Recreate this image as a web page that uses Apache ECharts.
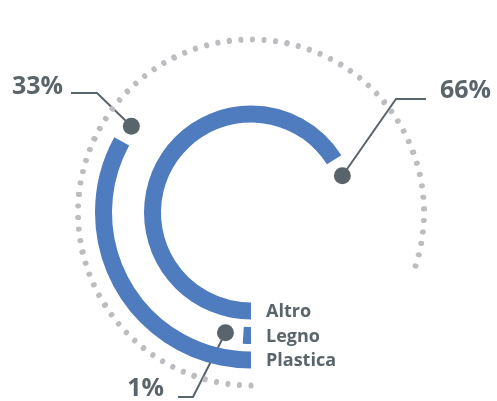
<!DOCTYPE html>
<html>
<head>
<meta charset="utf-8">
<script src="https://cdn.jsdelivr.net/npm/echarts@6/dist/echarts.min.js"></script>
<style>
  html, body { margin: 0; padding: 0; background: #ffffff; }
  #chart { width: 497px; height: 401px; }
</style>
</head>
<body>
<div id="chart"></div>
<script>
// Material shares, innermost ring first
const categories = ['Altro', 'Legno', 'Plastica'];
const shares = [66, 1, 33];
const shareLabels = ['66%', '1%', '33%'];

const BLUE = '#4f7bbf';
const INK = '#5a646b';
const DOT = '#bdbdc1';
const FONT = '"Open Sans", "DejaVu Sans", sans-serif';

const CX = 251, CY = 212.5;

const chart = echarts.init(document.getElementById('chart'), null, { renderer: 'canvas' });

chart.setOption({
  animation: false,
  polar: { center: [CX, CY], radius: [86.25, 159.75] },
  angleAxis: {
    type: 'value', min: 0, max: 100,
    startAngle: 270, clockwise: true, show: false
  },
  radiusAxis: { type: 'category', data: categories, show: false },
  series: [
    {
      type: 'bar',
      coordinateSystem: 'polar',
      data: shares,
      barWidth: 17,
      itemStyle: { color: BLUE },
      silent: true
    },
    {
      // dotted guide ring behind the bars
      type: 'gauge',
      center: [CX, CY],
      radius: 173.5,
      startAngle: 270,
      endAngle: -18,
      min: 0, max: 100,
      splitNumber: 15,
      axisLine: { show: false, lineStyle: { width: 0 } },
      splitLine: { show: false },
      axisTick: {
        show: true, splitNumber: 5, length: 1, distance: 0,
        lineStyle: { color: DOT, width: 5, cap: 'round' }
      },
      axisLabel: { show: false },
      pointer: { show: false },
      anchor: { show: false },
      progress: { show: false },
      title: { show: false },
      detail: { show: false },
      silent: true,
      data: []
    }
  ]
});

// Marker dots sit a short arc-length past the end of each bar
const GAP_PX = 18;
const toPx = (i, v) => chart.convertToPixel({ polarIndex: 0 }, [i, v]);

const markerData = shares.map((v, i) => {
  const p0 = toPx(i, 0);
  const r = Math.hypot(p0[0] - CX, p0[1] - CY);
  return [i, v + GAP_PX / (2 * Math.PI * r) * 100];
});

chart.setOption({
  series: [
    {}, {},
    {
      type: 'scatter',
      coordinateSystem: 'polar',
      data: markerData,
      symbolSize: 17,
      itemStyle: { color: INK, opacity: 1 },
      silent: true,
      z: 5
    }
  ]
});

// Leader line layout per category: elbow, line end, text anchor, alignment
const leaders = [
  { elbow: [396, 99], end: [426, 99], text: [440, 91], align: 'left' },
  { elbow: [193, 397], end: [178, 397], text: [164, 389], align: 'right' },
  { elbow: [97, 93], end: [71, 93], text: [63, 87], align: 'right' }
];

const graphics = [];
markerData.forEach((m, i) => {
  const p = chart.convertToPixel({ polarIndex: 0 }, m);
  const L = leaders[i];
  graphics.push({
    type: 'polyline',
    z: 1,
    shape: { points: [p, L.elbow, L.end] },
    style: { stroke: INK, lineWidth: 2, fill: null }
  });
  graphics.push({
    type: 'text',
    z: 10,
    x: L.text[0], y: L.text[1],
    style: {
      text: shareLabels[i],
      font: 'bold 25px ' + FONT,
      fill: INK,
      align: L.align,
      verticalAlign: 'middle'
    }
  });
});

// Category names beside the start of each ring
categories.forEach((name, i) => {
  const p = toPx(i, 0);
  graphics.push({
    type: 'text',
    z: 10,
    x: p[0] + 15, y: p[1] + 1,
    style: {
      text: name,
      font: 'bold 18px ' + FONT,
      fill: INK,
      align: 'left',
      verticalAlign: 'middle'
    }
  });
});

chart.setOption({ graphic: graphics });
</script>
</body>
</html>
